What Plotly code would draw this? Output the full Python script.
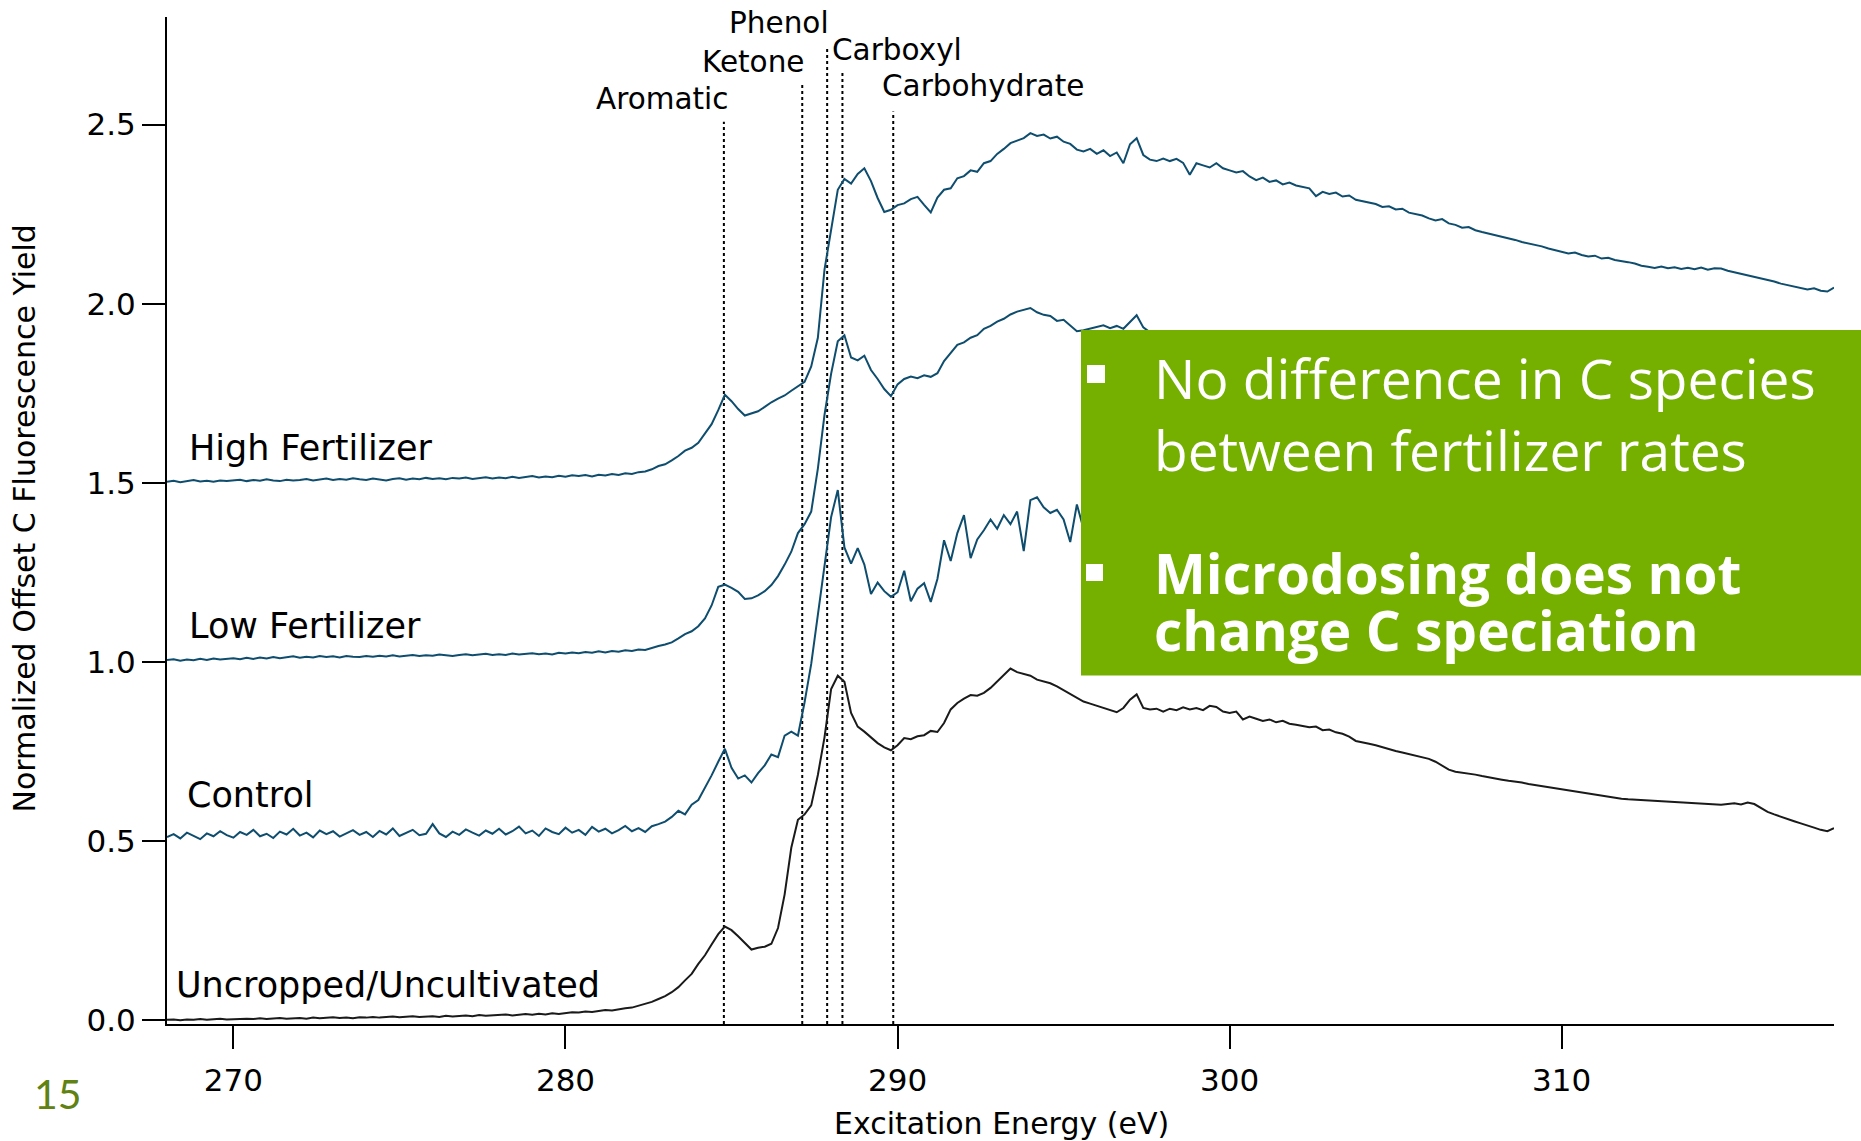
import numpy as np
import plotly.graph_objects as go

# ---------------------------------------------------------------------------
# C 1s NEXAFS spectra (normalized, offset) sampled every 0.2 eV
# ---------------------------------------------------------------------------
energy_ev = np.round(np.arange(268.0, 318.2001, 0.2), 1)

high_fertilizer = [
    1.503, 1.506, 1.502, 1.505, 1.508, 1.504, 1.506, 1.503, 1.507, 1.505,
    1.506, 1.509, 1.505, 1.508, 1.506, 1.510, 1.507, 1.505, 1.509, 1.507,
    1.508, 1.511, 1.507, 1.510, 1.512, 1.508, 1.511, 1.509, 1.513, 1.510,
    1.508, 1.512, 1.510, 1.507, 1.511, 1.513, 1.509, 1.512, 1.510, 1.514,
    1.511, 1.513, 1.510, 1.514, 1.512, 1.515, 1.511, 1.514, 1.516, 1.512,
    1.515, 1.513, 1.517, 1.514, 1.516, 1.519, 1.515, 1.518, 1.516, 1.520,
    1.517, 1.521, 1.519, 1.522, 1.518, 1.523, 1.521, 1.525, 1.522, 1.527,
    1.525, 1.530, 1.532, 1.538, 1.547, 1.552, 1.563, 1.575, 1.590, 1.598,
    1.612, 1.638, 1.664, 1.703, 1.746, 1.728, 1.706, 1.688, 1.693, 1.700,
    1.712, 1.725, 1.735, 1.744, 1.757, 1.770, 1.782, 1.825, 1.905, 2.095,
    2.210, 2.318, 2.348, 2.335, 2.362, 2.378, 2.342, 2.295, 2.256, 2.262,
    2.275, 2.280, 2.292, 2.298, 2.276, 2.255, 2.296, 2.318, 2.322, 2.350,
    2.356, 2.372, 2.368, 2.392, 2.398, 2.418, 2.432, 2.448, 2.455, 2.462,
    2.476, 2.468, 2.472, 2.461, 2.466, 2.452, 2.446, 2.430, 2.425, 2.432,
    2.418, 2.428, 2.412, 2.422, 2.392, 2.445, 2.462, 2.415, 2.402, 2.398,
    2.405, 2.398, 2.404, 2.393, 2.360, 2.392, 2.386, 2.380, 2.392, 2.378,
    2.372, 2.366, 2.370, 2.355, 2.345, 2.352, 2.340, 2.344, 2.333, 2.338,
    2.330, 2.327, 2.322, 2.300, 2.312, 2.306, 2.310, 2.299, 2.302, 2.290,
    2.286, 2.281, 2.278, 2.270, 2.272, 2.263, 2.265, 2.254, 2.250, 2.246,
    2.238, 2.232, 2.236, 2.224, 2.220, 2.212, 2.214, 2.205, 2.200, 2.196,
    2.192, 2.186, 2.182, 2.178, 2.172, 2.168, 2.165, 2.160, 2.154, 2.150,
    2.146, 2.140, 2.143, 2.136, 2.132, 2.134, 2.126, 2.128, 2.122, 2.120,
    2.116, 2.112, 2.106, 2.103, 2.100, 2.104, 2.099, 2.102, 2.097, 2.100,
    2.096, 2.101, 2.095, 2.099, 2.098, 2.092, 2.088, 2.084, 2.080, 2.076,
    2.072, 2.066, 2.062, 2.056, 2.052, 2.048, 2.045, 2.040, 2.043, 2.036,
    2.034, 2.045,
]

low_fertilizer = [
    1.006, 1.008, 1.004, 1.007, 1.005, 1.009, 1.006, 1.010, 1.007, 1.009,
    1.011, 1.008, 1.012, 1.009, 1.013, 1.010, 1.014, 1.011, 1.013, 1.016,
    1.012, 1.015, 1.013, 1.017, 1.014, 1.016, 1.013, 1.017, 1.015, 1.014,
    1.017, 1.015, 1.018, 1.016, 1.019, 1.016, 1.018, 1.020, 1.017, 1.019,
    1.018, 1.021, 1.019, 1.017, 1.020, 1.022, 1.019, 1.021, 1.023, 1.020,
    1.022, 1.020, 1.024, 1.021, 1.023, 1.025, 1.022, 1.024, 1.021, 1.026,
    1.024, 1.027, 1.025, 1.028, 1.026, 1.030, 1.027, 1.031, 1.029, 1.033,
    1.031, 1.035, 1.034, 1.040, 1.045, 1.049, 1.055, 1.066, 1.078, 1.086,
    1.100, 1.122, 1.158, 1.210, 1.216, 1.207, 1.196, 1.176, 1.178, 1.186,
    1.198, 1.215, 1.240, 1.272, 1.308, 1.360, 1.385, 1.420, 1.540, 1.690,
    1.805, 1.895, 1.912, 1.850, 1.842, 1.855, 1.815, 1.790, 1.762, 1.742,
    1.775, 1.790, 1.797, 1.792, 1.800, 1.796, 1.806, 1.840, 1.862, 1.885,
    1.892, 1.905, 1.912, 1.930, 1.938, 1.950, 1.958, 1.970, 1.978, 1.982,
    1.988, 1.976, 1.969, 1.966, 1.952, 1.955, 1.938, 1.923, 1.926, 1.930,
    1.936, 1.940, 1.932, 1.938, 1.930, 1.950, 1.968, 1.934, 1.920, 1.912,
    1.910, 1.905, 1.908, 1.898, 1.892, 1.895, 1.890, 1.886, 1.888, 1.882,
    1.878, 1.872, 1.874, 1.862, 1.855, 1.858, 1.848, 1.850, 1.842, 1.845,
    1.838, 1.834, 1.828, 1.815, 1.820, 1.812, 1.816, 1.806, 1.808, 1.798,
    1.795, 1.790, 1.786, 1.778, 1.780, 1.772, 1.774, 1.764, 1.760, 1.756,
    1.748, 1.742, 1.745, 1.735, 1.730, 1.722, 1.724, 1.716, 1.710, 1.706,
    1.702, 1.696, 1.692, 1.688, 1.682, 1.678, 1.675, 1.670, 1.664, 1.660,
    1.656, 1.650, 1.653, 1.646, 1.642, 1.644, 1.636, 1.638, 1.632, 1.630,
    1.626, 1.622, 1.616, 1.613, 1.610, 1.614, 1.609, 1.612, 1.607, 1.610,
    1.606, 1.610, 1.604, 1.608, 1.607, 1.600, 1.596, 1.592, 1.588, 1.584,
    1.580, 1.574, 1.570, 1.564, 1.560, 1.556, 1.553, 1.548, 1.551, 1.544,
    1.542, 1.550,
]

control = [
    0.512, 0.520, 0.508, 0.524, 0.515, 0.506, 0.522, 0.514, 0.528, 0.517,
    0.510, 0.526, 0.518, 0.532, 0.514, 0.521, 0.509, 0.527, 0.519, 0.535,
    0.516, 0.524, 0.511, 0.530, 0.520, 0.528, 0.513, 0.522, 0.531, 0.518,
    0.526, 0.512, 0.529, 0.519, 0.536, 0.515, 0.524, 0.532, 0.517, 0.521,
    0.548, 0.522, 0.512, 0.527, 0.518, 0.533, 0.524, 0.516, 0.530, 0.521,
    0.535, 0.519, 0.528, 0.541, 0.522, 0.530, 0.515, 0.536, 0.526, 0.520,
    0.538, 0.524, 0.532, 0.518, 0.540, 0.527, 0.535, 0.522, 0.531, 0.543,
    0.528, 0.537, 0.526, 0.542, 0.548, 0.555, 0.568, 0.585, 0.575, 0.602,
    0.615, 0.648, 0.684, 0.722, 0.758, 0.705, 0.675, 0.684, 0.664, 0.690,
    0.712, 0.742, 0.735, 0.795, 0.806, 0.795, 0.888, 0.995, 1.130, 1.262,
    1.405, 1.480, 1.320, 1.275, 1.318, 1.272, 1.190, 1.222, 1.198, 1.182,
    1.195, 1.255, 1.170, 1.205, 1.220, 1.168, 1.232, 1.340, 1.282, 1.360,
    1.410, 1.290, 1.342, 1.368, 1.398, 1.372, 1.410, 1.385, 1.420, 1.310,
    1.452, 1.460, 1.432, 1.416, 1.425, 1.398, 1.335, 1.440, 1.372, 1.380,
    1.368, 1.352, 1.340, 1.336, 1.348, 1.372, 1.380, 1.345, 1.338, 1.330,
    1.332, 1.340, 1.335, 1.342, 1.346, 1.338, 1.344, 1.340, 1.348, 1.336,
    1.325, 1.318, 1.312, 1.316, 1.305, 1.300, 1.298, 1.302, 1.295, 1.292,
    1.295, 1.290, 1.288, 1.282, 1.278, 1.276, 1.272, 1.266, 1.260, 1.252,
    1.245, 1.238, 1.232, 1.225, 1.222, 1.216, 1.212, 1.208, 1.204, 1.196,
    1.185, 1.176, 1.168, 1.160, 1.158, 1.154, 1.152, 1.148, 1.145, 1.140,
    1.138, 1.136, 1.134, 1.130, 1.126, 1.122, 1.118, 1.115, 1.112, 1.108,
    1.112, 1.108, 1.104, 1.100, 1.098, 1.094, 1.090, 1.088, 1.086, 1.082,
    1.080, 1.078, 1.080, 1.082, 1.079, 1.077, 1.075, 1.076, 1.074, 1.072,
    1.070, 1.068, 1.070, 1.072, 1.068, 1.070, 1.074, 1.072, 1.065, 1.056,
    1.048, 1.045, 1.038, 1.034, 1.028, 1.022, 1.018, 1.012, 1.008, 1.002,
    0.998, 1.005,
]

uncropped = [
    0.002, 0.003, 0.001, 0.003, 0.002, 0.004, 0.002, 0.003, 0.005, 0.003,
    0.004, 0.003, 0.005, 0.004, 0.006, 0.004, 0.005, 0.007, 0.005, 0.006,
    0.007, 0.005, 0.008, 0.006, 0.007, 0.009, 0.007, 0.008, 0.006, 0.009,
    0.008, 0.010, 0.008, 0.009, 0.011, 0.009, 0.010, 0.012, 0.010, 0.011,
    0.012, 0.010, 0.013, 0.011, 0.012, 0.014, 0.012, 0.015, 0.013, 0.014,
    0.015, 0.017, 0.014, 0.016, 0.018, 0.016, 0.019, 0.017, 0.020, 0.018,
    0.021, 0.023, 0.022, 0.025, 0.024, 0.027, 0.029, 0.028, 0.032, 0.034,
    0.036, 0.041, 0.046, 0.052, 0.060, 0.068, 0.079, 0.093, 0.112, 0.130,
    0.158, 0.182, 0.212, 0.241, 0.262, 0.252, 0.235, 0.216, 0.198, 0.203,
    0.206, 0.214, 0.258, 0.352, 0.482, 0.560, 0.575, 0.600, 0.685, 0.790,
    0.925, 0.962, 0.945, 0.858, 0.820, 0.806, 0.790, 0.774, 0.762, 0.754,
    0.768, 0.788, 0.785, 0.793, 0.796, 0.808, 0.805, 0.830, 0.868, 0.886,
    0.898, 0.908, 0.906, 0.914, 0.928, 0.946, 0.962, 0.982, 0.972, 0.968,
    0.962, 0.951, 0.945, 0.941, 0.932, 0.922, 0.912, 0.902, 0.890, 0.884,
    0.878, 0.874, 0.866, 0.860, 0.872, 0.895, 0.910, 0.872, 0.868, 0.870,
    0.862, 0.870, 0.866, 0.874, 0.868, 0.872, 0.866, 0.878, 0.875, 0.862,
    0.858, 0.862, 0.840, 0.848, 0.842, 0.836, 0.840, 0.832, 0.836, 0.828,
    0.825, 0.822, 0.818, 0.820, 0.810, 0.812, 0.804, 0.800, 0.792, 0.780,
    0.777, 0.772, 0.768, 0.762, 0.756, 0.752, 0.748, 0.744, 0.740, 0.736,
    0.730, 0.722, 0.712, 0.700, 0.694, 0.692, 0.688, 0.686, 0.682, 0.678,
    0.675, 0.672, 0.669, 0.667, 0.664, 0.660, 0.657, 0.654, 0.651, 0.648,
    0.646, 0.643, 0.640, 0.637, 0.634, 0.630, 0.627, 0.624, 0.622, 0.619,
    0.617, 0.616, 0.614, 0.615, 0.612, 0.613, 0.611, 0.610, 0.608, 0.609,
    0.606, 0.607, 0.604, 0.605, 0.602, 0.604, 0.606, 0.603, 0.608, 0.604,
    0.594, 0.582, 0.575, 0.568, 0.562, 0.556, 0.550, 0.545, 0.538, 0.532,
    0.528, 0.537,
]

series_names = ["High Fertilizer", "Low Fertilizer", "Control", "Uncropped/Uncultivated"]

# Functional-group transition energies (eV) marked by dotted lines
peak_names = ["Aromatic", "Ketone", "Phenol", "Carboxyl", "Carbohydrate"]
peak_energies = [284.77, 287.13, 287.88, 288.34, 289.87]

x_ticks = [270, 280, 290, 300, 310]
y_ticks = [0.0, 0.5, 1.0, 1.5, 2.0, 2.5]

# ---------------------------------------------------------------------------
# Layout geometry (pixels)
# ---------------------------------------------------------------------------
W, H = 1861, 1141
L, R, T, B = 167, 1834, 17, 1024
X_RANGE = [268.0, 318.2]
Y_RANGE = [-0.0098, 2.8]


def px_x(x):
    return (x - L) / (R - L)


def px_y(y):
    return (B - y) / (B - T)


FONT = "DejaVu Sans"
BOX_FONT = "Open Sans"
BLUE = "#0e4d6e"
BLACK = "#1a1a1a"

fig = go.Figure()

# dotted reference lines for each functional group
line_tops = [2.508, 2.610, 2.713, 2.647, 2.536]
for e, top in zip(peak_energies, line_tops):
    fig.add_trace(go.Scatter(
        x=[e, e], y=[Y_RANGE[0], top], mode="lines",
        line=dict(color="black", width=2, dash="dot"),
        hoverinfo="skip", showlegend=False,
    ))

series_values = [high_fertilizer, low_fertilizer, control, uncropped]
series_colors = [BLUE, BLUE, BLUE, BLACK]
for name, vals, col in zip(series_names, series_values, series_colors):
    assert len(vals) == len(energy_ev), name
    fig.add_trace(go.Scatter(
        x=energy_ev, y=vals, mode="lines", name=name,
        line=dict(color=col, width=2), showlegend=False,
    ))

annotations = []

# series labels
label_pos = [(268.6, 1.598), (268.6, 1.102), (268.55, 0.630), (268.22, 0.0996)]
for name, (lx, ly) in zip(series_names, label_pos):
    annotations.append(dict(
        x=lx, y=ly, xref="x", yref="y", text=name, showarrow=False,
        xanchor="left", yanchor="middle",
        font=dict(family=FONT, size=35, color="black"),
    ))

# functional-group labels
peak_label_pos = [(282.91, 2.571), (285.65, 2.674), (286.44, 2.784),
                  (289.98, 2.708), (292.56, 2.608)]
for name, (lx, ly) in zip(peak_names, peak_label_pos):
    annotations.append(dict(
        x=lx, y=ly, xref="x", yref="y", text=name, showarrow=False,
        xanchor="center", yanchor="middle",
        font=dict(family=FONT, size=29.5, color="black"),
    ))

# axis titles
annotations.append(dict(
    x=px_x(1001), y=px_y(1123), xref="paper", yref="paper",
    text="Excitation Energy (eV)", showarrow=False,
    xanchor="center", yanchor="middle",
    font=dict(family=FONT, size=30, color="black"),
))
annotations.append(dict(
    x=px_x(23.5), y=px_y(519), xref="paper", yref="paper",
    text="Normalized Offset C Fluorescence Yield", showarrow=False,
    textangle=-90, xanchor="center", yanchor="middle",
    font=dict(family=FONT, size=30, color="black"),
))

# slide page number
annotations.append(dict(
    x=px_x(58), y=px_y(1093), xref="paper", yref="paper",
    text="15", showarrow=False, xanchor="center", yanchor="middle",
    font=dict(family="Lato", size=41, color="#5f8212"),
))

# key findings panel
box_lines = [
    ("No difference in C species", 377.5, False),
    ("between fertilizer rates", 450.0, False),
    ("Microdosing does not", 573.0, True),
    ("change C speciation", 630.0, True),
]
for text, cy, bold in box_lines:
    annotations.append(dict(
        x=px_x(1152), y=px_y(cy), xref="paper", yref="paper",
        text=f"<b>{text}</b>" if bold else text, showarrow=False,
        xanchor="left", yanchor="middle",
        font=dict(family=BOX_FONT, size=55, color="white"),
    ))

shapes = [
    dict(type="rect", xref="paper", yref="paper", layer="above",
         x0=px_x(1081), x1=px_x(1861), y0=px_y(675.5), y1=px_y(330),
         fillcolor="#75b000", line=dict(width=0)),
    dict(type="rect", xref="paper", yref="paper", layer="above",
         x0=px_x(1087), x1=px_x(1105), y0=px_y(383), y1=px_y(365),
         fillcolor="white", line=dict(width=0)),
    dict(type="rect", xref="paper", yref="paper", layer="above",
         x0=px_x(1086), x1=px_x(1103), y0=px_y(581), y1=px_y(564),
         fillcolor="white", line=dict(width=0)),
]

axis_common = dict(
    showgrid=False, zeroline=False, showline=True, linecolor="black",
    linewidth=2, ticks="outside", ticklen=23, tickwidth=2, tickcolor="black",
    tickfont=dict(family=FONT, size=31, color="black"),
)

fig.update_layout(
    width=W, height=H,
    margin=dict(l=L, r=W - R, t=T, b=H - B, pad=0),
    paper_bgcolor="white", plot_bgcolor="white",
    xaxis=dict(range=X_RANGE, tickvals=x_ticks, ticklabelstandoff=5,
               ticktext=[str(v) for v in x_ticks], **axis_common),
    yaxis=dict(range=Y_RANGE, tickvals=y_ticks,
               ticktext=[f"{v:.1f}" for v in y_ticks], **axis_common),
    annotations=annotations,
    shapes=shapes,
    showlegend=False,
    hovermode=False,
)

fig.write_html("out.html")
